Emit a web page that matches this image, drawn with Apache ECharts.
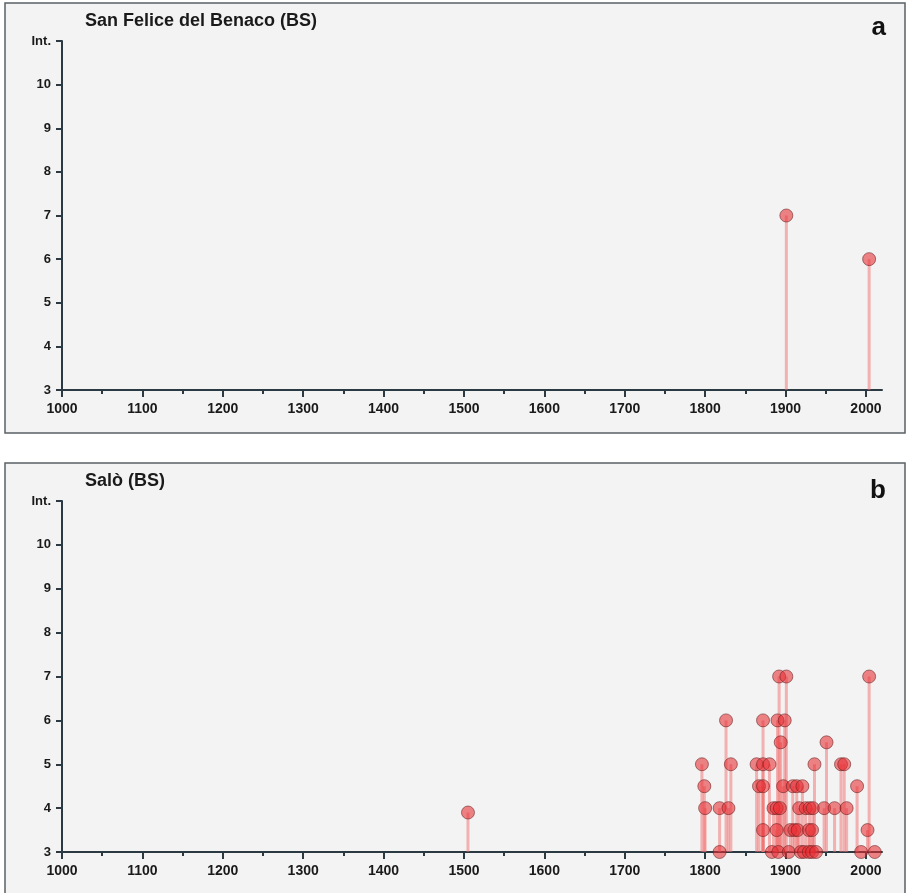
<!DOCTYPE html>
<html>
<head>
<meta charset="utf-8">
<script src="https://cdn.jsdelivr.net/npm/echarts@6/dist/echarts.min.js"></script>
<style>
  html, body { margin: 0; padding: 0; background: #fff; }
  #chart { width: 909px; height: 893px; }
</style>
</head>
<body>
<div id="chart"></div>
<script>
// San Felice del Benaco (BS)
const sanFeliceYears = [1901, 2004];
const sanFeliceInt = [7, 6];

// Salò (BS)
const saloYears = [
  1892, 1901, 2004,
  1826, 1872, 1890, 1899,
  1894, 1951,
  1796, 1832, 1864, 1872, 1880, 1936, 1969, 1973,
  1799, 1867, 1872, 1897, 1909, 1914, 1921, 1989,
  1800, 1818, 1829, 1885, 1889, 1893, 1917, 1925, 1930, 1934, 1948, 1961, 1976,
  1505,
  1872, 1889, 1906, 1911, 1915, 1929, 1933, 2002,
  1818, 1883, 1891, 1904, 1919, 1923, 1929, 1933, 1938, 1994, 2011
];
const saloInt = [
  7, 7, 7,
  6, 6, 6, 6,
  5.5, 5.5,
  5, 5, 5, 5, 5, 5, 5, 5,
  4.5, 4.5, 4.5, 4.5, 4.5, 4.5, 4.5, 4.5,
  4, 4, 4, 4, 4, 4, 4, 4, 4, 4, 4, 4, 4,
  3.9,
  3.5, 3.5, 3.5, 3.5, 3.5, 3.5, 3.5, 3.5,
  3, 3, 3, 3, 3, 3, 3, 3, 3, 3, 3
];

const majorTicks = [1000, 1100, 1200, 1300, 1400, 1500, 1600, 1700, 1800, 1900, 2000];
const minorTicks = [1050, 1150, 1250, 1350, 1450, 1550, 1650, 1750, 1850, 1950];
const panelTitles = ['San Felice del Benaco (BS)', 'Salò (BS)'];
const panelLetters = ['a', 'b'];

const axisColor = '#2b3942';
const font = 'Liberation Sans, Arial, sans-serif';

const grids = [
  { left: 62, right: 27, top: 41, bottom: 503 },
  { left: 62, right: 27, top: 501, bottom: 41 }
];

const xAxes = [];
const yAxes = [];
grids.forEach((g, i) => {
  xAxes.push({
    type: 'value', gridIndex: i, position: 'bottom', min: 1000, max: 2020, interval: 100,
    axisLine: { show: true, onZero: false, lineStyle: { color: axisColor, width: 2 } },
    axisTick: { show: true, customValues: majorTicks, length: 7, lineStyle: { color: axisColor, width: 2 } },
    axisLabel: {
      customValues: majorTicks, color: '#1a1a1a', fontFamily: font, fontSize: 14, fontWeight: 'bold', margin: 12,
      formatter: v => String(v)
    },
    splitLine: { show: false }
  });
  // short ticks half way between the labelled ones
  xAxes.push({
    type: 'value', gridIndex: i, position: 'bottom', min: 1000, max: 2020, interval: 50,
    axisLine: { show: false, onZero: false },
    axisTick: { show: true, customValues: minorTicks, length: 4, lineStyle: { color: axisColor, width: 2 } },
    axisLabel: { show: false },
    splitLine: { show: false }
  });
  yAxes.push({
    type: 'value', gridIndex: i, min: 3, max: 11, interval: 1,
    axisLine: { show: true, onZero: false, lineStyle: { color: axisColor, width: 2 } },
    axisTick: { show: true, length: 6, lineStyle: { color: axisColor, width: 2 } },
    axisLabel: {
      color: '#1a1a1a', fontFamily: font, fontSize: 13, fontWeight: 'bold', margin: 11,
      formatter: v => (v === 11 ? 'Int.' : String(v))
    },
    splitLine: { show: false }
  });
});

function stemSeries(xi, yi, years, ints) {
  return {
    type: 'custom', xAxisIndex: xi, yAxisIndex: yi, z: 2,
    data: years.map((y, k) => [y, ints[k]]),
    renderItem: (params, api) => {
      const top = api.coord([api.value(0), api.value(1)]);
      const base = api.coord([api.value(0), 3]);
      return {
        type: 'line',
        shape: { x1: top[0], y1: top[1], x2: base[0], y2: base[1] },
        style: { stroke: 'rgba(242,110,110,0.5)', lineWidth: 3 }
      };
    }
  };
}

function dotSeries(xi, yi, years, ints) {
  return {
    type: 'scatter', xAxisIndex: xi, yAxisIndex: yi, z: 3, clip: false,
    symbolSize: 13,
    data: years.map((y, k) => [y, ints[k]]),
    itemStyle: { color: 'rgba(230,45,50,0.72)', borderColor: 'rgba(100,30,30,0.7)', borderWidth: 1 }
  };
}

const panelRects = [
  { x: 5, y: 3, w: 900, h: 430 },
  { x: 5, y: 463, w: 900, h: 432 }
];

const chart = echarts.init(document.getElementById('chart'));
chart.setOption({
  backgroundColor: '#ffffff',
  animation: false,
  graphic: panelRects.map(r => ({
    type: 'rect', z: -10, silent: true,
    shape: { x: r.x, y: r.y, width: r.w, height: r.h },
    style: { fill: '#f3f3f3', stroke: '#5a6066', lineWidth: 1.5 }
  })),
  title: [
    { text: panelTitles[0], left: 80, top: 7, textStyle: { fontFamily: font, fontSize: 18, fontWeight: 'bold', color: '#1a1a1a' } },
    { text: panelLetters[0], right: 18, top: 10, textStyle: { fontFamily: font, fontSize: 26, fontWeight: 'bold', color: '#111' } },
    { text: panelTitles[1], left: 80, top: 467, textStyle: { fontFamily: font, fontSize: 18, fontWeight: 'bold', color: '#1a1a1a' } },
    { text: panelLetters[1], right: 18, top: 473, textStyle: { fontFamily: font, fontSize: 26, fontWeight: 'bold', color: '#111' } }
  ],
  grid: grids,
  xAxis: xAxes,
  yAxis: yAxes,
  series: [
    stemSeries(0, 0, sanFeliceYears, sanFeliceInt),
    dotSeries(0, 0, sanFeliceYears, sanFeliceInt),
    stemSeries(2, 1, saloYears, saloInt),
    dotSeries(2, 1, saloYears, saloInt)
  ]
});
</script>
</body>
</html>
